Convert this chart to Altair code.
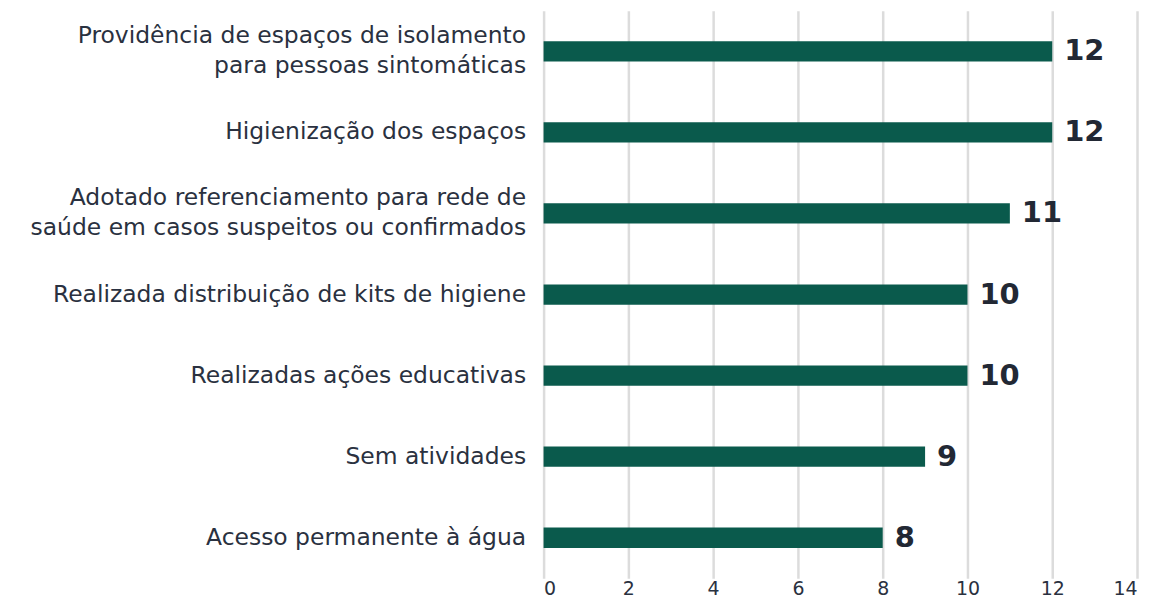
import altair as alt
import pandas as pd

categories = [
    "Providência de espaços de isolamento|para pessoas sintomáticas",
    "Higienização dos espaços",
    "Adotado referenciamento para rede de|saúde em casos suspeitos ou confirmados",
    "Realizada distribuição de kits de higiene",
    "Realizadas ações educativas",
    "Sem atividades",
    "Acesso permanente à água",
]
values = [12, 12, 11, 10, 10, 9, 8]

df = pd.DataFrame({"cat": categories, "val": values})

FONT = "DejaVu Sans"

y = alt.Y(
    "cat:N",
    sort=categories,
    title=None,
    scale=alt.Scale(paddingInner=0.75, paddingOuter=0.375),
    axis=alt.Axis(
        labelExpr="split(datum.label, '|')",
        labelFontSize=23.5,
        labelColor="#2a3140",
        labelFont=FONT,
        labelPadding=18,
        labelLineHeight=30,
        labelLimit=600,
        labelOffset={"condition": {"test": "indexof(datum.value, '|') >= 0", "value": -15}, "value": 0},
        domain=False,
        ticks=False,
        grid=False,
    ),
)
x = alt.X(
    "val:Q",
    title=None,
    scale=alt.Scale(domain=[0, 14]),
    axis=alt.Axis(
        values=[0, 2, 4, 6, 8, 10, 12, 14],
        labelFontSize=19,
        labelColor="#2a3140",
        labelFont=FONT,
        domain=False,
        ticks=False,
        grid=True,
        gridColor="#dcdcdc",
        gridWidth=2.5,
        labelPadding=1,
    ),
)

bars = alt.Chart(df).mark_bar(color="#0a5a4c").encode(x=x, y=y)
text = alt.Chart(df).mark_text(
    align="left", baseline="middle", dx=12, fontSize=29, fontWeight="bold",
    color="#222834", font=FONT
).encode(x="val:Q", y=alt.Y("cat:N", sort=categories), text="val:Q")

chart = (bars + text).properties(
    width=595,
    height=569,
    autosize="none",
    padding={"left": 537, "top": 2, "right": 10, "bottom": 22},
).configure_view(stroke=None)

chart.save("out.html", embed_options={"renderer": "svg", "actions": False})
